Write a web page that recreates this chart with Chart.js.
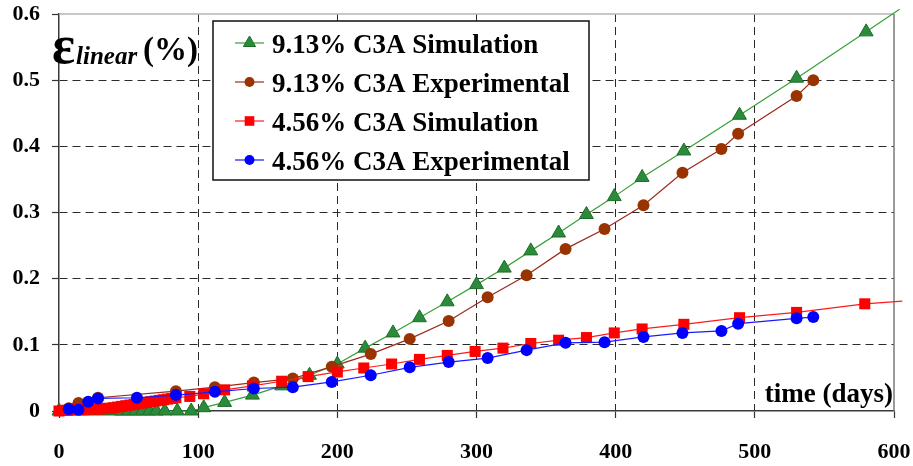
<!DOCTYPE html>
<html>
<head>
<meta charset="utf-8">
<script src="https://cdn.jsdelivr.net/npm/chart.js@4.4.1/dist/chart.umd.min.js"></script>
<style>
  html, body { margin: 0; padding: 0; background: #ffffff; }
  canvas { display: block; }
</style>
</head>
<body>
<canvas id="strainChart" width="913" height="466"></canvas>
<script>
// Axis ranges and tick labels
const dayTicks = [0, 100, 200, 300, 400, 500, 600];
const strainTicks = [0, 0.1, 0.2, 0.3, 0.4, 0.5, 0.6];

// 9.13% C3A – simulation (days, linear strain %)
const sim913Days   = [0, 10, 20, 30, 40, 45, 50, 55, 60, 65, 70, 76, 85, 95, 104, 119, 139, 160, 180, 200, 220, 240, 259, 279, 300, 320, 339, 359, 379, 399, 419, 449, 489, 530, 580];
const sim913Strain = [0, 0, 0, 0, 0, 0, 0, 0, 0, 0, 0, 0, 0, 0, 0.005, 0.013, 0.024, 0.038, 0.054, 0.071, 0.095, 0.118, 0.141, 0.165, 0.191, 0.216, 0.242, 0.269, 0.297, 0.324, 0.353, 0.393, 0.447, 0.503, 0.573];
// continuation of the simulated curve up to the frame
const sim913TailDays   = [580, 604];
const sim913TailStrain = [0.573, 0.607];

// 9.13% C3A – experimental
const exp913Days   = [7, 14, 28, 84, 112, 140, 168, 196, 224, 252, 280, 308, 336, 364, 392, 420, 448, 476, 488, 530, 542];
const exp913Strain = [0.004, 0.012, 0.020, 0.030, 0.036, 0.043, 0.049, 0.067, 0.086, 0.109, 0.136, 0.172, 0.205, 0.245, 0.275, 0.311, 0.360, 0.396, 0.419, 0.476, 0.500];

// 4.56% C3A – simulation
const sim456Days   = [0, 3, 6, 9, 12, 15, 18, 21, 24, 27, 30, 33, 36, 39, 42, 45, 48, 51, 54, 57, 60, 63, 66, 69, 72, 75, 78, 81, 84, 94, 104, 119, 139, 160, 179, 200, 219, 239, 259, 279, 299, 319, 339, 359, 379, 399, 419, 449, 489, 530, 579];
const sim456Strain = [0.000, 0.001, 0.001, 0.002, 0.002, 0.002, 0.002, 0.003, 0.003, 0.003, 0.003, 0.004, 0.004, 0.005, 0.006, 0.007, 0.008, 0.009, 0.010, 0.011, 0.012, 0.013, 0.014, 0.015, 0.016, 0.017, 0.018, 0.019, 0.020, 0.022, 0.026, 0.032, 0.038, 0.045, 0.052, 0.059, 0.065, 0.071, 0.078, 0.084, 0.090, 0.095, 0.102, 0.107, 0.111, 0.118, 0.124, 0.131, 0.141, 0.149, 0.162];
const sim456TailDays   = [579, 606];
const sim456TailStrain = [0.162, 0.166];

// 4.56% C3A – experimental
const exp456Days   = [7, 14, 21, 28, 56, 84, 112, 140, 168, 196, 224, 252, 280, 308, 336, 364, 392, 420, 448, 476, 488, 530, 542];
const exp456Strain = [0.003, 0.002, 0.014, 0.019, 0.020, 0.024, 0.029, 0.034, 0.036, 0.044, 0.054, 0.066, 0.074, 0.080, 0.092, 0.103, 0.104, 0.112, 0.118, 0.121, 0.132, 0.140, 0.142];

const seriesLabels = ['9.13% C3A Simulation', '9.13% C3A Experimental', '4.56% C3A Simulation', '4.56% C3A Experimental'];

const SERIF = "'Liberation Serif', 'Times New Roman', serif";

const toPoints = (xs, ys) => xs.map((x, i) => ({ x: x, y: ys[i] }));

const styleGreen = { line: '#36a036', fill: '#2b8a3c', edge: '#1d6e24', shape: 'triangle', radius: 8, edgeWidth: 1 };
const styleBrown = { line: '#9a2a1c', fill: '#993300', edge: '#993300', shape: 'circle', radius: 6, edgeWidth: 0 };
const styleRed   = { line: '#ff1a1a', fill: '#ff0000', edge: '#ff0000', shape: 'rect', radius: 7.8, edgeWidth: 0 };
const styleBlue  = { line: '#1a1aff', fill: '#0000ff', edge: '#0000ff', shape: 'circle', radius: 6, edgeWidth: 0 };

function seriesDataset(label, xs, ys, st, order) {
  return {
    label: label,
    data: toPoints(xs, ys),
    borderColor: st.line,
    borderWidth: 1.2,
    backgroundColor: st.fill,
    pointStyle: st.shape,
    pointRadius: st.radius,
    pointBackgroundColor: st.fill,
    pointBorderColor: st.edge,
    pointBorderWidth: st.edgeWidth,
    pointHoverRadius: st.radius,
    tension: 0,
    fill: false,
    order: order,
    clip: false,
    legendStyle: st,
    inLegend: true
  };
}

function tailDataset(xs, ys, st, order) {
  return {
    label: '',
    data: toPoints(xs, ys),
    borderColor: st.line,
    borderWidth: 1.2,
    pointRadius: 0,
    pointHoverRadius: 0,
    tension: 0,
    fill: false,
    order: order,
    clip: false,
    inLegend: false
  };
}

// Boxed legend placed inside the plot area
const boxedLegend = {
  id: 'boxedLegend',
  afterDatasetsDraw(chart) {
    const ctx = chart.ctx;
    const box = { x: 213, y: 21, w: 376, h: 159 };
    ctx.save();
    ctx.fillStyle = '#ffffff';
    ctx.fillRect(box.x, box.y, box.w, box.h);
    ctx.lineWidth = 1.5;
    ctx.strokeStyle = '#111111';
    ctx.strokeRect(box.x, box.y, box.w, box.h);

    const entries = chart.data.datasets.filter(d => d.inLegend);
    const rowCenters = [43, 82, 121, 160];
    entries.forEach((ds, i) => {
      const cy = rowCenters[i];
      const st = ds.legendStyle;
      ctx.beginPath();
      ctx.lineWidth = 1.2;
      ctx.strokeStyle = st.line;
      ctx.moveTo(235, cy);
      ctx.lineTo(264, cy);
      ctx.stroke();
      ctx.fillStyle = st.fill;
      ctx.strokeStyle = st.edge;
      ctx.lineWidth = st.edgeWidth;
      Chart.helpers.drawPoint(ctx, {
        pointStyle: st.shape,
        radius: st.radius - 1,
        rotation: 0,
        borderWidth: st.edgeWidth
      }, 249.5, cy);
      ctx.fillStyle = '#000000';
      ctx.font = 'bold 27px ' + SERIF;
      ctx.textAlign = 'left';
      ctx.textBaseline = 'alphabetic';
      ctx.fillText(ds.label, 272, cy + 10);
    });
    ctx.restore();
  }
};

// Frame, axis captions
const frameAndCaptions = {
  id: 'frameAndCaptions',
  beforeDatasetsDraw(chart) {
    const { ctx, chartArea: a } = chart;
    ctx.save();
    ctx.lineWidth = 1.5;
    ctx.strokeStyle = '#b4b4b4';
    ctx.beginPath();
    ctx.moveTo(a.left, a.top);
    ctx.lineTo(a.right, a.top);
    ctx.stroke();
    ctx.strokeStyle = '#7a7a7a';
    ctx.beginPath();
    ctx.moveTo(a.right, a.top);
    ctx.lineTo(a.right, a.bottom);
    ctx.stroke();
    ctx.restore();
  },
  afterDraw(chart) {
    const ctx = chart.ctx;
    ctx.save();
    ctx.fillStyle = '#000000';
    ctx.textBaseline = 'alphabetic';
    ctx.textAlign = 'left';
    ctx.font = 'bold 54px ' + SERIF;
    ctx.fillText('ε', 52, 63);
    ctx.font = 'italic bold 25px ' + SERIF;
    ctx.fillText('linear', 76, 64);
    ctx.font = 'bold 33px ' + SERIF;
    ctx.fillText('(%)', 143, 60);
    ctx.textAlign = 'right';
    ctx.font = 'bold 27px ' + SERIF;
    ctx.fillText('time (days)', 893, 402);
    ctx.restore();
  }
};

const edgeHidden = (scale) => (c) => {
  const v = c.tick ? c.tick.value : null;
  return (v === scale[0] || v === scale[scale.length - 1]) ? 'rgba(0,0,0,0)' : '#2a2a2a';
};

new Chart(document.getElementById('strainChart'), {
  type: 'line',
  data: {
    datasets: [
      seriesDataset(seriesLabels[0], sim913Days, sim913Strain, styleGreen, 4),
      seriesDataset(seriesLabels[1], exp913Days, exp913Strain, styleBrown, 3),
      seriesDataset(seriesLabels[2], sim456Days, sim456Strain, styleRed, 2),
      seriesDataset(seriesLabels[3], exp456Days, exp456Strain, styleBlue, 1),
      tailDataset(sim913TailDays, sim913TailStrain, styleGreen, 5),
      tailDataset(sim456TailDays, sim456TailStrain, styleRed, 5)
    ]
  },
  options: {
    responsive: false,
    animation: false,
    events: [],
    layout: { padding: { left: 0, top: 14, right: 19, bottom: 0 } },
    plugins: {
      legend: { display: false },
      tooltip: { enabled: false },
      title: { display: false }
    },
    scales: {
      x: {
        type: 'linear',
        min: dayTicks[0],
        max: dayTicks[dayTicks.length - 1],
        afterFit: (s) => { s.height = 55; s.paddingLeft = 0; s.paddingRight = 0; },
        afterBuildTicks: (s) => { s.ticks = dayTicks.map(v => ({ value: v })); },
        ticks: {
          color: '#000000',
          font: { family: SERIF, size: 22, weight: 'bold' },
          padding: 21,
          maxRotation: 0,
          callback: (v) => String(v)
        },
        grid: {
          color: edgeHidden(dayTicks),
          lineWidth: 1,
          drawTicks: true,
          tickLength: 7,
          tickColor: '#333333',
          tickWidth: 1.2
        },
        border: { display: true, color: '#3a3a3a', width: 1.5, dash: [8, 5] }
      },
      y: {
        type: 'linear',
        min: strainTicks[0],
        max: strainTicks[strainTicks.length - 1],
        afterFit: (s) => { s.width = 59; s.paddingTop = 0; s.paddingBottom = 0; },
        afterBuildTicks: (s) => { s.ticks = strainTicks.map(v => ({ value: v })); },
        ticks: {
          color: '#000000',
          font: { family: SERIF, size: 22, weight: 'bold' },
          padding: 12,
          callback: (v) => (v === 0 ? '0' : Number(v).toFixed(1))
        },
        grid: {
          color: edgeHidden(strainTicks),
          lineWidth: 1,
          drawTicks: true,
          tickLength: 7,
          tickColor: '#333333',
          tickWidth: 1.2
        },
        border: { display: true, color: '#3a3a3a', width: 1.5, dash: [8, 5] }
      }
    }
  },
  plugins: [frameAndCaptions, boxedLegend]
});
</script>
</body>
</html>
